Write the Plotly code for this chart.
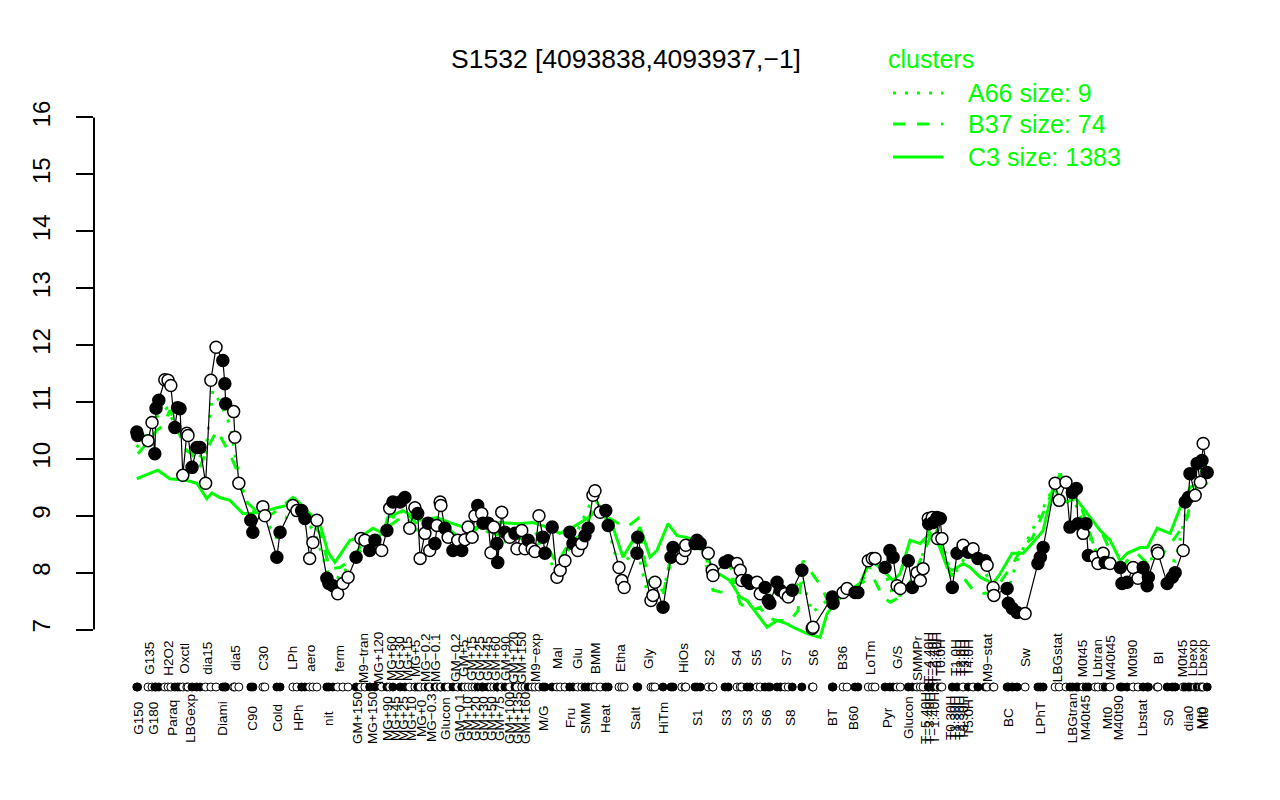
import plotly.graph_objects as go

# ---------------- data ----------------
TITLE = "S1532 [4093838,4093937,\u22121]"
Y_TICKS = [7, 8, 9, 10, 11, 12, 13, 14, 15, 16]

# sample position along the condition axis, expression value, filled symbol (1) or open (0)
sample_pos = [
    1.0, 1.2, 3.8, 4.8, 5.5, 5.8, 6.5, 8.0, 8.8, 9.5,
    10.5, 11.2, 11.8, 12.5, 13.5, 13.8, 14.8, 16.0, 16.8, 18.2,
    19.5, 20.8, 22.5, 23.0, 23.2, 25.2, 25.5, 26.5, 29.5, 30.0,
    32.5, 33.0, 36.0, 36.8, 40.0, 41.0, 42.2, 43.0, 44.2, 45.0,
    46.0, 48.5, 49.0, 50.0, 51.2, 52.5, 53.8, 55.8, 57.0, 58.0,
    59.2, 60.5, 62.2, 63.5, 64.2, 65.0, 66.8,
    68.0, 69.2, 70.5, 71.2, 71.8, 73.0, 73.8, 74.2, 75.5, 76.0,
    76.8, 77.0, 78.0, 78.8, 80.0, 81.2, 82.2, 83.0, 83.8, 84.8,
    85.5, 86.2, 87.2, 87.5, 88.8, 89.5, 90.2, 91.0, 91.2, 92.2,
    93.0, 94.2, 95.5, 96.0, 97.2, 98.0, 98.8, 99.8, 100.5, 101.5,
    102.5, 103.0, 104.8, 106.0, 106.8, 108.0, 109.2, 110.0, 111.2, 112.2,
    113.0, 113.8, 115.0, 115.5, 116.8, 118.2, 118.8, 121.5, 122.2, 122.8,
    126.0, 126.2, 129.5, 130.0, 130.5, 132.5, 134.5, 135.0, 137.2, 138.0,
    138.2, 140.5,
    141.0, 141.8, 143.8, 144.8, 145.0, 148.0, 148.8, 151.0, 151.8, 152.2,
    153.5, 154.2, 156.0, 156.8, 158.0, 158.8, 159.2, 161.0, 161.8, 163.0,
    163.8, 164.8, 167.2, 169.8, 170.0, 174.8, 175.0, 177.5, 178.5, 180.5,
    181.2, 183.8, 184.8, 185.5, 188.0, 189.2, 190.0, 191.0, 191.8, 193.8,
    194.8, 196.0, 196.8, 197.5, 198.8, 198.9, 199.8, 200.0, 201.0, 201.1,
    201.8, 202.2, 204.8, 206.0, 207.5,
    208.8, 210.0, 211.2, 213.0, 213.5, 215.0, 215.2, 218.5, 218.8, 219.8,
    221.0, 223.0, 226.2, 226.8, 227.5, 230.5, 231.5, 233.2, 234.2, 234.8,
    235.8, 236.2, 237.5, 238.2, 238.8, 240.5, 241.2, 242.5, 243.0, 244.2,
    246.8, 247.2, 248.5, 250.0, 251.2, 252.5, 253.5, 253.8, 256.0, 256.2,
    258.5, 259.8, 260.5, 262.5, 263.0, 263.8, 264.2, 265.5, 266.0, 266.8,
    267.2, 267.5, 268.5,
]

expr_values = [
    10.47, 10.41, 10.32, 10.64, 10.09, 10.89, 11.03, 11.39, 11.38, 11.29,
    10.55, 10.90, 10.88, 9.71, 10.45, 10.41, 9.85, 10.20, 10.20, 9.57,
    11.38, 11.96, 11.73, 11.32, 10.97, 10.83, 10.38, 9.57, 8.92, 8.71,
    9.16, 9.00, 8.27, 8.71, 9.18, 9.09, 9.09, 8.95, 8.25, 8.53,
    8.92, 7.90, 7.81, 7.77, 7.63, 7.81, 7.92, 8.27, 8.60, 8.57,
    8.39, 8.57, 8.39, 8.74, 9.13, 9.24, 9.24,
    9.32, 8.78, 9.14, 9.04, 8.25, 8.69, 8.87, 8.39, 8.51, 8.83,
    9.24, 9.18, 8.78, 8.62, 8.39, 8.57, 8.39, 8.58, 8.80, 8.62,
    9.00, 9.18, 9.04, 8.87, 8.87, 8.35, 8.80, 8.51, 8.18, 9.06,
    8.71, 8.62, 8.69, 8.42, 8.74, 8.42, 8.57, 8.42, 8.37, 9.00,
    8.62, 8.34, 8.80, 7.92, 8.04, 8.21, 8.71, 8.51, 8.39, 8.51,
    8.65, 8.78, 9.36, 9.44, 9.06, 9.09, 8.83, 8.09, 7.86, 7.74,
    8.34, 8.62, 7.51, 7.60, 7.83, 7.39, 8.27, 8.44, 8.25, 8.39,
    8.48, 8.51,
    8.57, 8.51, 8.34, 8.04, 7.95, 8.18, 8.21, 8.16, 8.04, 7.86,
    7.86, 7.81, 7.83, 7.63, 7.74, 7.51, 7.46, 7.83, 7.69, 7.63,
    7.57, 7.69, 8.04, 7.02, 7.04, 7.57, 7.46, 7.65, 7.72, 7.65,
    7.65, 8.21, 8.25, 8.25, 8.09, 8.39, 8.27, 7.77, 7.72, 8.21,
    7.74, 8.00, 7.86, 8.07, 8.95, 8.86, 8.97, 8.88, 8.97, 8.60,
    8.95, 8.60, 7.74, 8.34, 8.48,
    8.36, 8.42, 8.25, 8.21, 8.13, 7.74, 7.60, 7.72, 7.46, 7.37,
    7.30, 7.28, 8.16, 8.27, 8.44, 9.57, 9.27, 9.59, 8.80, 9.41,
    9.48, 8.86, 8.69, 8.86, 8.30, 8.27, 8.16, 8.34, 8.18, 8.16,
    8.09, 7.81, 7.83, 8.09, 7.90, 8.09, 7.77, 7.92, 8.39, 8.34,
    7.81, 7.92, 8.00, 8.39, 9.24, 9.32, 9.74, 9.36, 9.92, 9.59,
    9.97, 10.27, 9.76,
]

sample_filled = [
    1, 1, 0, 0, 1, 1, 1, 0, 0, 0,
    1, 1, 1, 0, 0, 0, 1, 1, 1, 0,
    0, 0, 1, 1, 1, 0, 0, 0, 1, 1,
    0, 0, 1, 1, 0, 0, 1, 1, 0, 0,
    0, 1, 1, 1, 0, 0, 0, 1, 0, 0,
    1, 1, 0, 1, 0, 1, 1,
    1, 0, 0, 1, 0, 0, 1, 0, 1, 0,
    0, 0, 1, 0, 1, 0, 1, 0, 0, 0,
    0, 1, 0, 1, 1, 0, 0, 1, 1, 0,
    1, 0, 1, 0, 0, 0, 1, 0, 0, 0,
    1, 1, 1, 0, 0, 0, 1, 1, 0, 0,
    1, 1, 0, 0, 0, 1, 1, 0, 0, 0,
    1, 1, 0, 0, 0, 1, 1, 1, 0, 0,
    0, 1,
    1, 1, 0, 0, 0, 1, 1, 0, 0, 0,
    1, 1, 0, 0, 1, 1, 1, 1, 1, 0,
    0, 1, 1, 0, 0, 1, 1, 0, 0, 1,
    1, 0, 0, 0, 1, 1, 1, 0, 0, 1,
    1, 0, 0, 0, 0, 1, 0, 1, 1, 0,
    1, 0, 1, 1, 0,
    1, 0, 1, 1, 0, 0, 0, 1, 1, 1,
    1, 0, 1, 1, 1, 0, 0, 0, 1, 1,
    1, 1, 0, 1, 1, 0, 0, 0, 1, 0,
    1, 1, 1, 0, 0, 1, 1, 1, 0, 0,
    1, 1, 1, 0, 1, 1, 1, 0, 1, 0,
    1, 0, 1,
]

# cluster profiles (green lines)
c3_pos = [1, 6.25, 9.25, 13.5, 16, 18.5, 19.75, 21.75, 24.25, 27.5, 30, 33.5, 36, 38.5, 40.5, 43, 45,
          46.75, 48.75, 50.5, 52.25, 54.25, 56.75, 60, 62.5, 63.75, 67.5, 71.75, 76, 79.25, 83.5, 87.5,
          91.75, 96, 100, 103.5, 106.75, 110, 113.5, 116.75, 120, 122.5, 125, 126.75, 129.25, 131,
          133.75, 136, 138.5, 141.75, 142.5, 146, 149.25, 151.75, 153.5, 156, 158.5, 161, 163.5, 165,
          168.5, 171.75, 173.5, 176, 178.5, 181.75, 184.25, 186.75, 190, 191.75, 194.25, 196.75,
          199.25, 201, 203.5, 205, 207.5, 209.25, 211.75, 215, 216.75, 219.75, 222.5, 224.75, 227.5,
          230, 231.75, 233.5, 235.5, 238.5, 241.75, 244.25, 246.75, 248.5, 251.75, 253.5, 256,
          259.25, 261.75, 264.25, 266.75, 268.75]
c3_val = [9.65, 9.80, 9.65, 9.62, 9.57, 9.30, 9.40, 9.32, 9.27, 9.04, 9.04, 9.09, 9.14, 9.18, 9.30, 9.12, 8.97,
          8.86, 8.36, 8.18, 8.36, 8.57, 8.62, 8.78, 8.69, 8.97, 9.09, 8.92, 8.97, 8.88, 8.78, 8.80,
          8.88, 8.86, 8.88, 8.80, 8.69, 8.80, 8.95, 9.14, 8.80, 8.27, 8.57, 8.80, 8.27, 8.39,
          8.86, 8.65, 8.62, 8.53, 8.34, 8.00, 7.86, 7.57, 7.51, 7.28, 7.04, 7.16, 7.10, 7.04,
          6.93, 6.86, 7.28, 7.51, 7.63, 7.81, 8.21, 8.09, 7.86, 7.98, 8.57, 8.51,
          8.69, 8.57, 8.09, 8.04, 8.16, 8.09, 7.92, 7.81, 7.98, 8.34, 8.34, 8.51, 8.74,
          9.50, 9.32, 9.24, 9.32, 9.04, 8.74, 8.57, 8.21, 8.34, 8.44, 8.44, 8.78,
          8.69, 9.14, 9.50, 9.57, 9.57]

b37_pos = [1.25, 3.5, 6, 7.5, 9.25, 10.5, 12.25, 13.5, 14.75, 16.75, 18.75, 21, 21.75, 24.25, 26, 28, 30,
           32.5, 35, 37.5, 40, 42.25, 44.75, 46.75, 48, 49.25, 51.75, 54.25, 56.75, 60, 63.5, 66, 68.5,
           71.75, 76.75, 81.75, 86.75, 91.75, 96.75, 101.75, 106, 109.25, 113, 115.5, 118, 121.75,
           123.5, 126.25, 128.75, 132.5, 134.5, 138, 141.75, 145, 147.5, 150, 151.75, 154.25, 156.75,
           158.5, 161, 164.25, 166.25, 167.5, 171, 172.25, 174.25, 176.75, 179.25, 181.75, 185,
           187.5, 189.25, 191.75, 195, 197.5, 199.25, 201.75, 204.25, 207.5, 210, 211.75, 215, 220,
           222.5, 224.75, 226.75, 229.25, 231.75, 234.25, 236.75, 240, 242.5, 244.25, 246, 248.5,
           251, 253.5, 256.75, 260, 261.75, 263.5, 265, 267.5]
b37_val = [10.09, 10.27, 10.50, 10.58, 10.85, 10.67, 10.32, 10.14, 10.09, 9.85, 10.20, 10.50, 10.41, 10.09, 9.80, 9.27, 9.14,
           8.97, 9.04, 9.18, 9.32, 9.18, 8.88, 8.69, 8.39, 8.07, 8.09, 8.21, 8.44, 8.51, 8.79, 8.92, 9.04,
           8.80, 8.90, 8.60, 8.80, 8.65, 8.60, 8.70, 8.15, 8.55, 8.70, 9.30, 9.00, 8.85,
           8.80, 8.95, 7.85, 7.60, 8.30, 8.45, 8.55, 7.69, 7.65, 7.90, 7.46, 7.33, 7.39,
           7.21, 7.16, 7.16, 7.33, 8.21, 7.86, 7.74, 7.39, 7.60, 7.70, 7.81, 7.92,
           7.57, 7.48, 7.57, 7.92, 8.34, 8.62, 8.57, 7.98, 7.92, 7.69, 7.63, 7.65, 8.16,
           8.48, 8.60, 8.92, 9.32, 9.74, 9.32, 9.21, 8.51, 8.65, 8.39, 7.98, 8.21,
           8.34, 8.16, 8.27, 8.57, 8.74, 8.97, 9.44, 9.50]

a66_pos = [1, 5, 8.5, 10.5, 13, 15.5, 18, 20, 21.75, 24.25, 26.75, 29.25, 32.5, 36, 39.25, 43, 45.5,
           48.75, 51.75, 55.5, 59.25, 63, 66.75, 71.75, 76.75, 81.75, 86.75, 91.75, 96.75, 101.75,
           106, 109.25, 114.25, 118, 121.75, 125.75, 128.75, 132.5, 135, 138, 141.75, 144.75, 148.5,
           151.75, 156, 159.25, 161.75, 164.25, 167.25, 169.75, 174.25, 178.5, 181, 184.25, 188, 190,
           191.75, 196, 199.25, 201.75, 204.75, 208.25, 211.5, 215, 218.75, 221, 226, 228.5, 231.75,
           235, 238, 240.5, 243, 246, 249.5, 253, 256.75, 260.5, 263, 265.5, 267.5]
a66_val = [10.20, 10.67, 10.89, 10.60, 10.38, 10.10, 10.00, 11.20, 11.00, 10.60, 9.60, 9.10, 9.00, 8.60, 9.10, 8.95, 8.70,
           8.00, 7.90, 8.30, 8.50, 8.80, 9.10, 8.70, 8.90, 8.50, 8.85, 8.50, 8.65, 8.50,
           8.00, 8.45, 9.20, 9.00, 8.00, 8.50, 7.60, 7.70, 8.30, 8.40, 8.50, 8.00, 8.15,
           7.90, 7.75, 7.60, 7.70, 7.60, 7.90, 7.30, 7.55, 7.65, 7.70, 8.10, 8.00, 7.60,
           7.60, 7.95, 8.80, 8.70, 7.90, 8.30, 8.20, 7.75, 7.70, 8.21, 8.92, 9.27, 9.74,
           9.30, 8.80, 8.40, 8.40, 8.05, 8.00, 8.20, 8.30, 8.20, 9.00, 9.60, 9.85]

cluster_names = ["A66 size: 9", "B37 size: 74", "C3 size: 1383"]

# condition labels: upper row and lower row (name, position)
top_labels = ["G135", "H2O2", "Oxctl", "dia15", "dia5", "C30", "LPh", "aero", "ferm", "M9\u2212tran",
              "MG+120", "MG+60", "MG+30", "MG+15", "MG+5", "MG\u22120.2", "MG\u22120.1", "GM\u22120.2",
              "GM+5", "GM+15", "GM+25", "GM+45", "GM+60", "GM+90", "GM+120", "GM+150",
              "M9\u2212exp", "Mal", "Glu", "BMM", "Etha", "Gly", "HiOs", "S2", "S4", "S5", "S7", "S6",
              "B36", "LoTm", "G/S", "SMMPr", "T\u22124.40H", "T\u22122.40H", "T\u22120.40H", "T0.0H",
              "T1.0H", "T2.0H", "T3.0H", "T4.0H", "M9\u2212stat", "Sw", "LBGstat", "M0t45", "Lbtran",
              "M40t45", "M0t90", "BI", "M0t45", "Lbexp", "Lbexp"]
top_pos = [4.0, 8.75, 12.75, 18.5, 25.5, 32.5, 39.75, 44.25, 51.5, 57.5,
           61.25, 64.5, 66.5, 68.5, 70.5, 73, 75.5, 80.5,
           82.5, 84.5, 86.5, 88.5, 90.5, 93, 95, 97,
           100.5, 106, 111, 115.5, 121.75, 128.75, 137.5, 144, 150.75, 155.75, 163.25, 170,
           177.25, 184.25, 191, 196, 198.75, 199.75, 200.75, 201.75,
           205.5, 206.75, 207.75, 208.75, 213.5, 223, 231, 237.25, 241,
           244.25, 249.75, 256.25, 262.25, 264.75, 267.25]

bottom_labels = ["G150", "G180", "Paraq", "LBGexp", "Diami", "C90", "Cold", "HPh", "nit", "GM+150",
                 "MG+150", "MG+90", "MG+45", "MG+25", "MG+10", "MG+0", "MG\u22120.3", "Glucon",
                 "GM\u22120.1", "GM+10", "GM+20", "GM+30", "GM+50", "GM+75", "GM+100", "GM+135",
                 "GM+160", "M/G", "Fru", "SMM", "Heat", "Salt", "HiTm", "S1", "S3", "S3", "S6", "S8",
                 "BT", "B60", "Pyr", "Glucon", "T\u22125.40H", "T\u22123.40H", "T\u22121.40H",
                 "T0.30H", "T1.30H", "T2.30H", "T3.30H", "T5.0H", "BC", "LPhT", "LBGtran", "M40t45",
                 "Mt0", "M40t90", "Lbstat", "S0", "dia0", "Mt0", "Mt0"]
bottom_pos = [1.25, 5, 9.75, 14.25, 22.25, 29.75, 36, 41.25, 48.75, 56,
              59.75, 63.5, 65.5, 67.5, 69.5, 72, 74.5, 78,
              81.5, 83.5, 85.5, 87.5, 89.5, 91.5, 94, 96,
              98, 102.5, 109.25, 113, 118, 125.5, 132.5, 141, 148.25, 153.5, 158.25, 164.25,
              174.75, 180, 188.5, 193.75, 198, 199, 200.25,
              204.25, 205.25, 206.5, 207.5, 208.75, 218.75, 226.75, 234.75, 238,
              243.5, 246.25, 252.25, 258.75, 263.75, 267, 267.5]

# ---------------- layout constants ----------------
# The page body adds an 8px offset, so the figure is 8px smaller than the window.
OFF = 8
W, H = 1280 - OFF, 800 - OFF
# reference-pixel frame: main plot 94..1250 (x), 97..650 (y); strip area down to 700
REF_L, REF_R, REF_T, REF_MAIN_B, REF_B = 94, 1250, 97, 650, 700
ML = REF_L - OFF
MR = W - (REF_R - OFF)
MT = REF_T - OFF
MB = H - (REF_B - OFF)
X_RANGE = [-9.7, 279.2]
Y_RANGE = [6.64, 16.36]
GREEN = "#00ff00"
FONT = "Liberation Sans, Arial, Helvetica, sans-serif"
LABEL_SIZE = 13.5

MAIN_DOMAIN = [(REF_B - REF_MAIN_B) / (REF_B - REF_T), 1.0]
STRIP_DOMAIN = [0.0, MAIN_DOMAIN[0]]
STRIP_Y = (REF_B - 687) / (REF_B - REF_MAIN_B)   # strip centre in the strip axis [0,1]


def paper_x(ref_px):
    return (ref_px - REF_L) / (REF_R - REF_L)


def paper_y(ref_py):
    return (REF_B - ref_py) / (REF_B - REF_T)


n = len(sample_pos)
assert len(expr_values) == n and len(sample_filled) == n
assert len(top_labels) == len(top_pos) and len(bottom_labels) == len(bottom_pos)

fills = ["black" if f else "white" for f in sample_filled]

fig = go.Figure()

clusters = [
    (cluster_names[0], a66_pos, a66_val, "3px,9px"),
    (cluster_names[1], b37_pos, b37_val, "12px,12px"),
    (cluster_names[2], c3_pos, c3_val, "solid"),
]
for name, xs, ys, dash in clusters:
    fig.add_trace(go.Scatter(
        x=xs, y=ys, mode="lines", name=name,
        line=dict(color=GREEN, width=3, dash=dash),
        showlegend=False, hoverinfo="skip",
    ))

fig.add_trace(go.Scatter(
    x=sample_pos, y=expr_values, mode="lines+markers", name="S1532",
    line=dict(color="black", width=1.2),
    marker=dict(size=12, color=fills, line=dict(color="black", width=1.5)),
    showlegend=False,
))

# condition strip below the plot
fig.add_trace(go.Scatter(
    x=sample_pos, y=[STRIP_Y] * n, mode="markers", name="conditions",
    xaxis="x", yaxis="y2",
    marker=dict(size=8, color=fills, line=dict(color="black", width=1)),
    cliponaxis=False, showlegend=False, hoverinfo="skip",
))

annotations = []
for lab, p in zip(top_labels, top_pos):
    annotations.append(dict(
        x=p, y=paper_y(658), xref="x", yref="paper", text=lab, textangle=-90,
        showarrow=False, xanchor="center", yanchor="middle",
        font=dict(family=FONT, size=LABEL_SIZE, color="black"),
    ))
for lab, p in zip(bottom_labels, bottom_pos):
    annotations.append(dict(
        x=p, y=paper_y(718), xref="x", yref="paper", text=lab, textangle=-90,
        showarrow=False, xanchor="center", yanchor="middle",
        font=dict(family=FONT, size=LABEL_SIZE, color="black"),
    ))

# title
annotations.append(dict(
    x=paper_x(626), y=paper_y(59), xref="paper", yref="paper", text=TITLE,
    showarrow=False, xanchor="center", yanchor="middle",
    font=dict(family=FONT, size=26.5, color="black"),
))

# legend (manual, like R legend)
annotations.append(dict(
    x=paper_x(886), y=paper_y(59), xref="paper", yref="paper", text="clusters",
    showarrow=False, xanchor="left", yanchor="middle",
    font=dict(family=FONT, size=25, color=GREEN),
))
shapes = []
legend_rows = [93, 124, 157]
for (name, _, _, dash), ry in zip(clusters, legend_rows):
    shapes.append(dict(
        type="line", xref="paper", yref="paper",
        x0=paper_x(893), x1=paper_x(943), y0=paper_y(ry), y1=paper_y(ry),
        line=dict(color=GREEN, width=3, dash=dash),
    ))
    annotations.append(dict(
        x=paper_x(966), y=paper_y(ry), xref="paper", yref="paper", text=name,
        showarrow=False, xanchor="left", yanchor="middle",
        font=dict(family=FONT, size=25, color=GREEN),
    ))

# y axis line spanning only the tick range (R style)
shapes.append(dict(
    type="line", xref="paper", yref="y", x0=0, x1=0, y0=Y_TICKS[0], y1=Y_TICKS[-1],
    line=dict(color="black", width=2),
))

fig.update_layout(
    width=W, height=H,
    margin=dict(l=ML, r=MR, t=MT, b=MB, autoexpand=False),
    paper_bgcolor="white", plot_bgcolor="white",
    showlegend=False,
    annotations=annotations,
    shapes=shapes,
    xaxis=dict(range=X_RANGE, showgrid=False, zeroline=False, showticklabels=False,
               ticks="", showline=False, fixedrange=True, anchor="y"),
    yaxis=dict(domain=MAIN_DOMAIN, range=Y_RANGE, tickmode="array", tickvals=Y_TICKS,
               ticktext=[str(v) for v in Y_TICKS],
               ticks="outside", ticklen=17, tickwidth=2, tickcolor="black",
               showgrid=False, zeroline=False, showline=False, tickangle=-90,
               tickfont=dict(family=FONT, size=24, color="black"),
               ticklabelstandoff=16, fixedrange=True),
    yaxis2=dict(domain=STRIP_DOMAIN, range=[0, 1], visible=False, fixedrange=True,
                showgrid=False, zeroline=False),
    font=dict(family=FONT, color="black"),
)

fig.write_html("out.html")
